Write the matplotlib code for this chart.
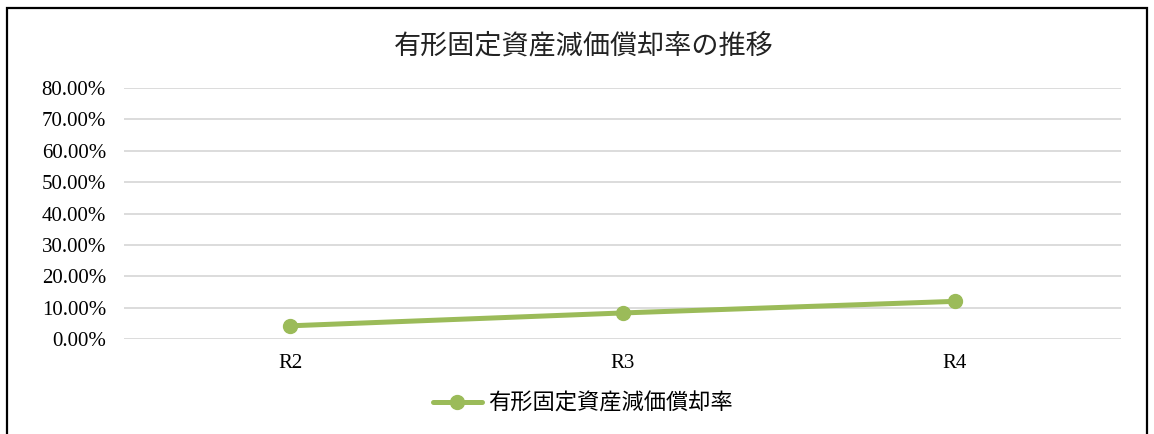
import matplotlib.pyplot as plt
import matplotlib.patches as patches
from matplotlib.ticker import FuncFormatter

# データ
categories = ["R2", "R3", "R4"]
rates = [0.042, 0.083, 0.120]
series_name = "有形固定資産減価償却率"
title = "有形固定資産減価償却率の推移"

jp = ["Noto Sans CJK JP", "DejaVu Sans"]
serif = "Liberation Serif"
green = "#9BBB59"

fig = plt.figure(figsize=(11.54, 4.34), dpi=100)
ax = fig.add_axes([0.1075, 0.2189, 0.8639, 0.5783])

x = range(len(categories))
ax.plot(x, rates, color=green, linewidth=3.6, marker="o", markersize=10,
        solid_capstyle="round", label=series_name, zorder=3)

ax.set_xlim(-0.5, len(categories) - 0.5)
ax.set_ylim(0, 0.8)
ax.set_yticks([i / 10 for i in range(9)])
ax.yaxis.set_major_formatter(FuncFormatter(lambda v, p: f"{v * 100:.2f}%"))
ax.set_xticks(list(x))
ax.set_xticklabels(categories)

ax.grid(axis="y", color="#D9D9D9", linewidth=1.3)
ax.set_axisbelow(True)
for s in ax.spines.values():
    s.set_visible(False)
ax.tick_params(axis="both", length=0, labelsize=15, colors="#000000")
ax.tick_params(axis="y", pad=13)
ax.tick_params(axis="x", pad=11)
for lbl in ax.get_xticklabels() + ax.get_yticklabels():
    lbl.set_fontfamily(serif)

fig.text(0.5055, 0.894, title, ha="center", va="center", fontsize=19.5,
         family=jp, color="#222222")

fig.legend(loc="center", bbox_to_anchor=(0.505, 0.071), frameon=False,
           prop={"family": jp, "size": 16}, handlelength=2.2, handletextpad=0.3)

# 外枠
fig.patches.append(patches.Rectangle((7 / 1154, -0.1), 1140 / 1154, 1.1 - 8 / 434,
                                     transform=fig.transFigure, fill=False,
                                     edgecolor="#000000", linewidth=1.6))

fig.savefig("out.png", dpi=100)
